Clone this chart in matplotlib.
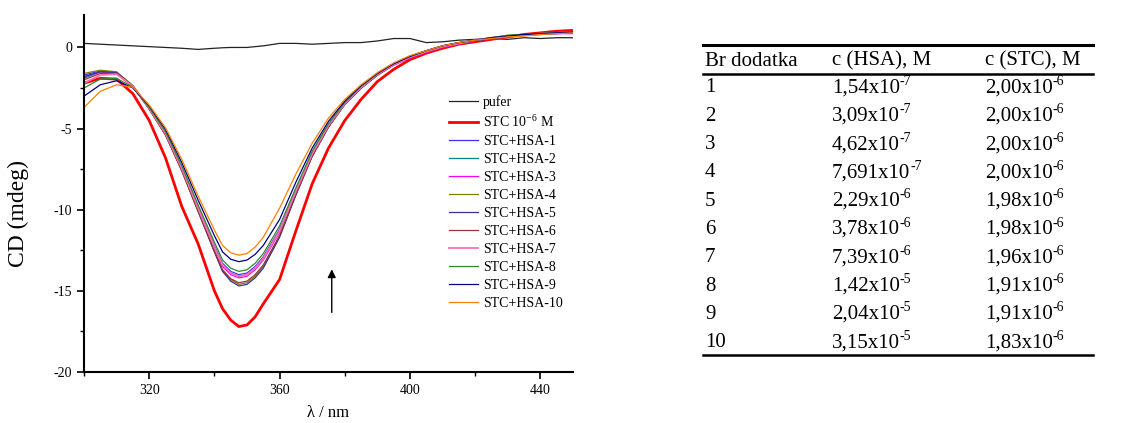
import matplotlib
matplotlib.use("Agg")
import matplotlib.pyplot as plt
from matplotlib.lines import Line2D
from matplotlib.ticker import MultipleLocator

plt.rcParams['font.family'] = ['Liberation Serif', 'DejaVu Serif']
plt.rcParams['mathtext.fontset'] = 'custom'
plt.rcParams['mathtext.rm'] = 'Liberation Serif'
plt.rcParams['mathtext.it'] = 'Liberation Serif:italic'
plt.rcParams['axes.unicode_minus'] = False

# wavelength grid (nm)
wl = [300, 305, 310, 315, 320, 325, 330, 335, 340, 342.5, 345, 347.5, 350, 352.5, 355, 360, 365,
      370, 375, 380, 385, 390, 395, 400, 405, 410, 415, 420, 425, 430, 435, 440, 445, 450]

pufer = [0.25, 0.2, 0.15, 0.1, 0.05, 0.0, -0.05, -0.12, -0.05, -0.02, 0.0, 0.0, 0.0, 0.05, 0.1, 0.25, 0.25,
         0.2, 0.25, 0.3, 0.3, 0.4, 0.55, 0.55, 0.3, 0.35, 0.45, 0.5, 0.55, 0.5, 0.6, 0.55, 0.6, 0.6]
stc = [-2.2, -1.9, -1.95, -2.85, -4.5, -6.8, -9.8, -12.1, -15.0, -16.1, -16.8, -17.2, -17.1, -16.6, -15.8, -14.3, -11.3,
       -8.4, -6.2, -4.5, -3.2, -2.1, -1.35, -0.75, -0.35, -0.05, 0.2, 0.35, 0.5, 0.65, 0.8, 0.9, 1.0, 1.05]
hsa1 = [-1.7, -1.45, -1.55, -2.35, -3.7, -5.25, -7.4, -9.85, -12.2, -13.3, -13.8, -14.0, -13.9, -13.5, -12.9, -11.2, -8.8,
        -6.5, -4.75, -3.4, -2.4, -1.6, -1.0, -0.55, -0.2, 0.1, 0.3, 0.45, 0.6, 0.7, 0.75, 0.85, 0.9, 0.95]
hsa2 = [-1.9, -1.5, -1.6, -2.4, -3.75, -5.3, -7.45, -9.9, -12.3, -13.4, -13.9, -14.1, -14.0, -13.6, -13.0, -11.3, -8.85,
        -6.55, -4.8, -3.45, -2.45, -1.65, -1.05, -0.6, -0.25, 0.05, 0.25, 0.45, 0.55, 0.7, 0.8, 0.85, 0.9, 0.9]
hsa3 = [-1.8, -1.5, -1.6, -2.4, -3.75, -5.3, -7.5, -9.95, -12.35, -13.5, -14.0, -14.2, -14.1, -13.7, -13.1, -11.4, -8.9,
        -6.6, -4.85, -3.5, -2.5, -1.7, -1.1, -0.65, -0.3, 0.0, 0.2, 0.4, 0.55, 0.65, 0.75, 0.8, 0.85, 0.85]
hsa4 = [-1.6, -1.4, -1.5, -2.35, -3.75, -5.35, -7.55, -10.05, -12.55, -13.75, -14.3, -14.6, -14.5, -14.1, -13.5, -11.6, -9.05,
        -6.7, -4.9, -3.5, -2.5, -1.7, -1.05, -0.6, -0.25, 0.05, 0.25, 0.45, 0.6, 0.75, 0.8, 0.85, 0.9, 0.9]
hsa5 = [-1.8, -1.5, -1.55, -2.4, -3.8, -5.4, -7.6, -10.1, -12.6, -13.8, -14.4, -14.7, -14.6, -14.2, -13.6, -11.7, -9.1,
        -6.7, -4.9, -3.5, -2.5, -1.7, -1.05, -0.6, -0.25, 0.05, 0.25, 0.4, 0.55, 0.65, 0.75, 0.8, 0.85, 0.9]
hsa6 = [-2.0, -1.6, -1.6, -2.4, -3.8, -5.4, -7.6, -10.1, -12.55, -13.7, -14.25, -14.5, -14.4, -14.0, -13.4, -11.6, -9.05,
        -6.7, -4.9, -3.5, -2.5, -1.7, -1.05, -0.6, -0.25, 0.05, 0.25, 0.45, 0.55, 0.7, 0.8, 0.85, 0.9, 0.9]
hsa7 = [-2.2, -1.7, -1.65, -2.4, -3.75, -5.3, -7.45, -9.9, -12.3, -13.4, -13.9, -14.1, -14.0, -13.6, -13.0, -11.3, -8.85,
        -6.55, -4.8, -3.45, -2.45, -1.65, -1.05, -0.6, -0.25, 0.05, 0.25, 0.45, 0.6, 0.7, 0.75, 0.85, 0.9, 0.95]
hsa8 = [-2.5, -1.95, -1.9, -2.45, -3.7, -5.2, -7.3, -9.7, -12.0, -13.1, -13.6, -13.8, -13.7, -13.3, -12.7, -11.0, -8.65,
        -6.4, -4.7, -3.4, -2.4, -1.6, -1.0, -0.55, -0.2, 0.1, 0.3, 0.45, 0.6, 0.75, 0.8, 0.85, 0.9, 0.9]
hsa9 = [-3.0, -2.3, -2.05, -2.5, -3.6, -5.05, -7.1, -9.4, -11.6, -12.6, -13.05, -13.2, -13.1, -12.75, -12.2, -10.6, -8.3,
        -6.2, -4.55, -3.3, -2.35, -1.6, -1.0, -0.55, -0.2, 0.1, 0.3, 0.45, 0.6, 0.7, 0.8, 0.85, 0.9, 0.95]
hsa10 = [-3.7, -2.7, -2.3, -2.45, -3.55, -4.95, -6.9, -9.15, -11.25, -12.2, -12.65, -12.8, -12.7, -12.3, -11.7, -9.9, -7.8,
         -5.9, -4.35, -3.2, -2.3, -1.55, -0.95, -0.5, -0.2, 0.1, 0.3, 0.45, 0.55, 0.65, 0.7, 0.8, 0.85, 0.9]

labels = ['pufer', 'STC 10$^{-6}$ M'] + ['STC+HSA-%d' % i for i in range(1, 11)]
series = [pufer, stc, hsa1, hsa2, hsa3, hsa4, hsa5, hsa6, hsa7, hsa8, hsa9, hsa10]
colors = ['#222222', '#ff0000', '#3333ff', '#008080', '#ff00ff', '#808000',
          '#333399', '#993333', '#ff6eb4', '#2e8b2e', '#000080', '#ff8000']
widths = [0.9, 2.0, 0.9, 0.9, 0.9, 0.9, 0.9, 0.9, 1.3, 0.9, 0.9, 0.9]

# table data
row_no = [str(i) for i in range(1, 11)]
c_hsa = ['1,54', '3,09', '4,62', '7,691', '2,29', '3,78', '7,39', '1,42', '2,04', '3,15']
c_hsa_exp = ['-7', '-7', '-7', '-7', '-6', '-6', '-6', '-5', '-5', '-5']
c_stc = ['2,00', '2,00', '2,00', '2,00', '1,98', '1,98', '1,96', '1,91', '1,91', '1,83']
c_stc_exp = ['-6'] * 10
headers = ['Br dodatka', 'c (HSA), M', 'c (STC), M']

W, H = 1125, 423
fig = plt.figure(figsize=(W / 100, H / 100), dpi=100)
ax = fig.add_axes([84 / W, 1 - 372 / H, (573 - 84) / W, (372 - 15) / H])

for y, lab, c, lw in zip(series, labels, colors, widths):
    ax.plot(wl, y, color=c, lw=lw, label=lab)

ax.set_xlim(300, 450)
ax.set_ylim(-20, 2)
ax.xaxis.set_minor_locator(MultipleLocator(20))
ax.set_xticks([320, 360, 400, 440])
ax.yaxis.set_major_locator(MultipleLocator(5))
ax.yaxis.set_minor_locator(MultipleLocator(2.5))
for s in ['top', 'right']:
    ax.spines[s].set_visible(False)
for s in ['left', 'bottom']:
    ax.spines[s].set_linewidth(1.5)
ax.tick_params(which='major', direction='out', length=5, width=1.2, labelsize=10)
ax.tick_params(which='minor', direction='out', length=3, width=1.0)
ax.set_xlabel('λ / nm', fontsize=12, va='top')
ax.xaxis.set_label_coords(0.5, -0.093)
ax.set_ylabel('CD (mdeg)', fontsize=17)
ax.yaxis.set_label_coords(-0.112, 0.443)

ax.annotate('', xy=(376, -13.5), xytext=(376, -16.5),
            arrowprops=dict(arrowstyle='-|>', color='black', lw=1, mutation_scale=12))

fig.legend(loc='upper left', bbox_to_anchor=(449 / W, 1 - 95 / H), frameon=False, fontsize=10,
           handlelength=2.1, handletextpad=0.35, labelspacing=0.36, borderpad=0, borderaxespad=0)

# table on the right
col_x = [705, 832, 985]
fs = 15
for x, h in zip(col_x, headers):
    fig.text(x / W, 1 - 61 / H, h, fontsize=fs, va='center', ha='left')
row_y0, row_dy = 88, 28.3
for i in range(10):
    y = 1 - (row_y0 + i * row_dy) / H
    fig.text(col_x[0] / W, y, row_no[i], fontsize=fs, va='center', ha='left')
    for x, base, ex in [(col_x[1], c_hsa[i], c_hsa_exp[i]), (col_x[2], c_stc[i], c_stc_exp[i])]:
        t = fig.text(x / W, y, base + 'x10', fontsize=fs, va='center', ha='left')
        fig.texts.append(matplotlib.text.Annotation(ex, xy=(1.0, 1.0), xycoords=t, xytext=(0, 2.5),
                                                    textcoords='offset points', fontsize=10,
                                                    va='top', ha='left', figure=fig))
for yy, lw in [(45, 2.2), (74, 1.8), (355, 1.8)]:
    fig.add_artist(Line2D([703 / W, 1093 / W], [1 - yy / H, 1 - yy / H], color='black', lw=lw))

fig.savefig('out.png', dpi=100)
